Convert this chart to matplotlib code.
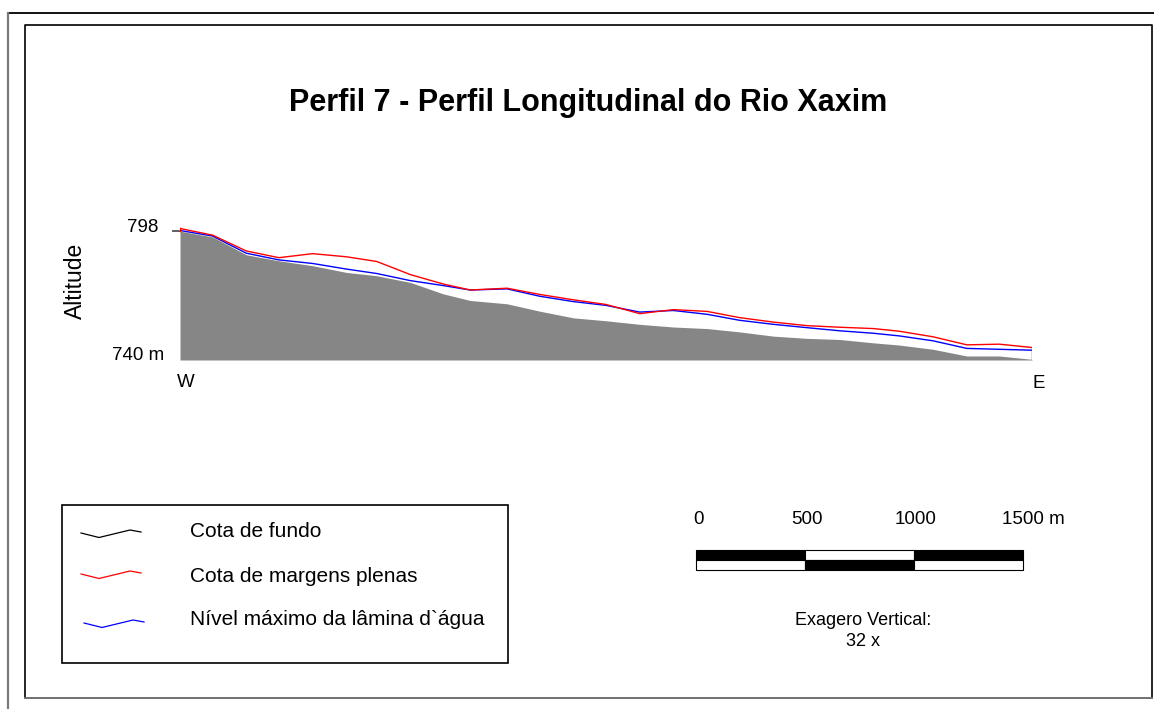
import matplotlib
matplotlib.use("Agg")
import matplotlib.pyplot as plt
from matplotlib.patches import Rectangle

plt.rcParams["font.family"] = ["Liberation Sans", "DejaVu Sans"]

# Longitudinal profile of the river: distance from the W end (m) and elevations (m)
distancia = [0, 150, 305, 455, 610, 765, 905, 1060, 1210, 1335, 1505, 1655, 1810,
             1960, 2115, 2270, 2425, 2575, 2730, 2885, 3035, 3190, 3310, 3465,
             3620, 3770, 3920]
cota_fundo = [797.8, 795.2, 787.2, 784.5, 782.3, 779.3, 777.8, 774.8, 769.7, 766.7,
              765.2, 761.9, 758.9, 757.6, 756.0, 754.8, 754.1, 752.6, 750.7, 749.7,
              749.2, 747.7, 746.7, 744.8, 741.8, 741.8, 740.3]
cota_margens = [799.0, 796.0, 788.9, 785.9, 787.7, 786.3, 784.2, 778.3, 774.1, 771.4,
                772.2, 769.4, 767.0, 764.9, 760.8, 762.6, 761.8, 759.0, 757.0, 755.4,
                754.7, 754.1, 752.9, 750.4, 746.8, 747.1, 745.6]
nivel_max = [798.1, 795.6, 787.9, 784.9, 783.3, 780.8, 778.8, 775.6, 773.4, 771.4,
             771.9, 768.6, 766.2, 764.5, 761.5, 762.2, 760.5, 757.8, 756.0, 754.5,
             753.1, 752.0, 750.8, 748.6, 745.2, 744.8, 744.4]

alt_min, alt_max = 740, 798
escala_labels = ["0", "500", "1000", "1500 m"]
legenda = ["Cota de fundo", "Cota de margens plenas", "Nível máximo da lâmina d`água"]
cores = ["black", "#ff0000", "#0000ff"]

W, H = 1154, 709
fig = plt.figure(figsize=(W / 100, H / 100), dpi=100)

# page overlay in pixel units (frames, legend, scale bar, labels)
page = fig.add_axes([0, 0, 1, 1])
page.set_xlim(0, W)
page.set_ylim(H, 0)
page.axis("off")

page.plot([8, W], [12.5, 12.5], color="black", lw=1.3)
page.plot([8.3, 8.3], [12.5, H], color="#7a7a7a", lw=1.6)
page.plot([24.5, 24.5, 1152, 1152], [698, 25, 25, 698], color="black", lw=1.2)
page.plot([24.5, 1152], [698, 698], color="#707070", lw=1.4)

page.text(588, 111, "Perfil 7 - Perfil Longitudinal do Rio Xaxim",
          fontsize=22, fontweight="bold", ha="center", va="baseline")

# profile axes: x in metres, y in metres of altitude
px_per_m = 129.3 / (alt_max - alt_min)
y_top = 360 - (800 - alt_min) * px_per_m
ax = fig.add_axes([180 / W, (H - 360) / H, 852 / W, (360 - y_top) / H])
ax.set_xlim(0, distancia[-1])
ax.set_ylim(alt_min, 800)
for s in ax.spines.values():
    s.set_visible(False)
ax.set_xticks([])
ax.set_yticks([alt_max])
ax.set_yticklabels([])
ax.tick_params(axis="y", length=6, width=1.2, color="#444444")
ax.patch.set_visible(False)

ax.fill_between(distancia, cota_fundo, alt_min, color="#868686", lw=0)
ax.plot(distancia, nivel_max, color=cores[2], lw=1.0)
ax.plot(distancia, cota_margens, color=cores[1], lw=1.0)
ax.plot([distancia[0]] * 2, [cota_margens[0], cota_fundo[0]], color=cores[1], lw=1.0)
ax.plot([distancia[-1]] * 2, [cota_margens[-1], cota_fundo[-1]], color=cores[1], lw=1.0)

page.text(158.5, 232, str(alt_max), fontsize=13.5, ha="right", va="baseline")
page.text(164.5, 359.5, f"{alt_min} m", fontsize=13.5, ha="right", va="baseline")
page.text(186, 387, "W", fontsize=13.5, ha="center", va="baseline")
page.text(1039, 388, "E", fontsize=13.5, ha="center", va="baseline")
page.text(75, 281, "Altitude", fontsize=16.5, rotation=90, ha="center", va="center")

# legend box
page.add_patch(Rectangle((62, 505), 446, 158, fill=False, ec="black", lw=1.2))
zig_x = [0, 18, 49, 60]
zig_y = [0, 4.5, -3, -1]
for i, (txt, c) in enumerate(zip(legenda, cores)):
    x0 = 81 if i < 2 else 84
    y0 = [533, 574, 623][i]
    page.plot([x0 + dx for dx in zig_x], [y0 + dy for dy in zig_y], color=c, lw=0.9)
    page.text(190, [537, 581.5, 625][i], txt, fontsize=15, ha="left", va="baseline")

# scale bar
xs = [696, 805, 913.5, 1023]
for i in range(3):
    top_c = "black" if i != 1 else "white"
    bot_c = "white" if i != 1 else "black"
    page.add_patch(Rectangle((xs[i], 550), xs[i + 1] - xs[i], 10, fc=top_c, ec="black", lw=0.8))
    page.add_patch(Rectangle((xs[i], 560), xs[i + 1] - xs[i], 9.5, fc=bot_c, ec="black", lw=0.8))
for i, lab in enumerate(escala_labels):
    if i < 3:
        page.text(xs[i] + 2, 523.5, lab, fontsize=13.5, ha="center", va="baseline")
    else:
        page.text(1001.5, 523.5, lab, fontsize=13.5, ha="left", va="baseline")

page.text(863.5, 625, "Exagero Vertical:", fontsize=13, ha="center", va="baseline")
page.text(863.5, 646.5, "32 x", fontsize=13, ha="center", va="baseline")

fig.savefig("out.png", dpi=100)
